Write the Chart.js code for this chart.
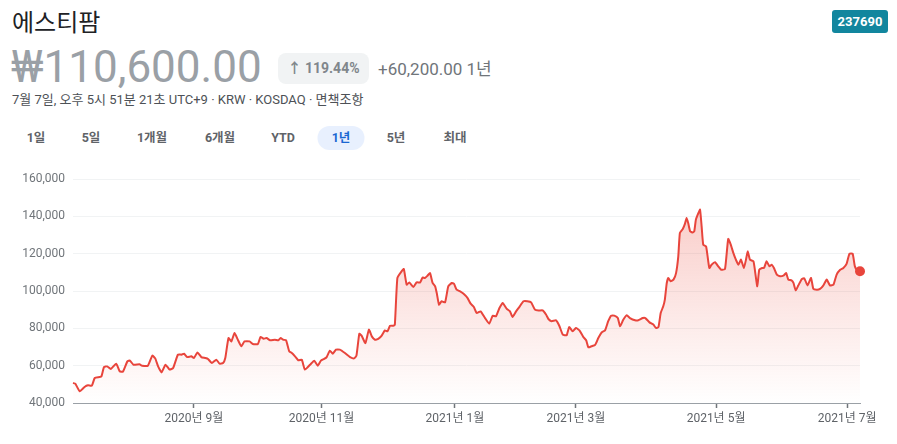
<!DOCTYPE html>
<html lang="ko">
<head>
<meta charset="utf-8">
<script src="https://cdn.jsdelivr.net/npm/chart.js@4.4.1/dist/chart.umd.min.js"></script>
<style>
  body { margin: 0; width: 897px; height: 444px; background: #fff; position: relative; overflow: hidden;
         font-family: Roboto, "Noto Sans CJK KR", Arial, sans-serif; }
  .abs { position: absolute; white-space: nowrap; }
  #title { left: 12px; top: 4px; font-size: 24px; line-height: 34px; color: #202124;
           font-family: "Noto Sans CJK KR", Roboto, sans-serif; }
  #badge { left: 832px; top: 10px; width: 56px; height: 23px; line-height: 23px; border-radius: 3px;
           background: #12869e; color: #fff; font-weight: 700; font-size: 13px; text-align: center; }
  #price { left: 11px; top: 39px; font-size: 44px; line-height: 56px; color: #9aa0a6; }
  #pill { left: 278px; top: 53px; width: 91px; height: 31px; line-height: 31px; border-radius: 8px;
          background: #f1f3f4; color: #80868b; font-weight: 700; font-size: 14px; text-align: center; }
  #change { left: 378px; top: 57px; font-size: 17px; line-height: 24px; color: #70757a; }
  #sub { left: 12px; top: 91px; font-size: 13px; line-height: 18px; color: #4d5156; }
  .tab { top: 126px; height: 24px; line-height: 24px; font-size: 12.5px; font-weight: 700; color: #5f6368;
         text-align: center; transform: translateX(-50%); }
  .tab.on { background: #e8f0fe; color: #1967d2; border-radius: 12px; width: 47px; }
  #wrap { position: absolute; left: 0; top: 160px; width: 897px; height: 284px; }
</style>
</head>
<body>
<div id="title" class="abs">에스티팜</div>
<div id="badge" class="abs">237690</div>
<div id="price" class="abs">₩110,600.00</div>
<div id="pill" class="abs">↑ 119.44%</div>
<div id="change" class="abs">+60,200.00 1년</div>
<div id="sub" class="abs">7월 7일, 오후 5시 51분 21초 UTC+9 · KRW · KOSDAQ · 면책조항</div>
<div class="abs tab" style="left:36px">1일</div>
<div class="abs tab" style="left:91px">5일</div>
<div class="abs tab" style="left:152px">1개월</div>
<div class="abs tab" style="left:220px">6개월</div>
<div class="abs tab" style="left:283px">YTD</div>
<div class="abs tab on" style="left:341px">1년</div>
<div class="abs tab" style="left:396px">5년</div>
<div class="abs tab" style="left:455px">최대</div>
<div id="wrap"><canvas id="chart" width="897" height="284"></canvas></div>
<script>
// trading-day position (0 = 2020-07-07) and closing price in won
const days = [
  0, 0.7, 2.1, 3.6, 4.7, 5.9, 6.8, 8.3, 8.9, 9.7, 10.7, 11.8, 13.5, 14.6, 15.6, 17.0, 17.8, 18.9, 20.8, 21.6,
  23.4, 24.8, 25.7, 26.6, 27.7, 28.9, 30.2, 31.3, 32.8, 33.9, 34.7, 35.7, 37.0, 37.8, 38.9, 40.1, 41.4, 42.2, 43.4, 44.8,
  45.8, 46.9, 47.6, 48.6, 49.5, 50.5, 51.6, 52.6, 53.6, 55.2, 56.2, 57.8, 58.6, 59.6, 60.5, 61.6, 63.1, 64.2, 64.9, 65.7,
  66.6, 67.6, 68.4, 69.4, 70.4, 71.5, 72.5, 74.1, 75.4, 76.5, 77.5, 78.5, 79.3, 80.3, 81.2, 82.2, 83.4, 85.0, 86.6, 87.9,
  88.6, 89.5, 90.2, 91.4, 92.5, 93.4, 94.4, 95.4, 96.5, 97.5, 98.3, 99.1, 100.1, 100.6, 101.4, 102.7, 103.4, 104.3, 105.1, 106.4,
  107.4, 108.5, 109.3, 110.0, 110.8, 111.6, 112.4, 113.2, 113.7, 114.4, 115.2, 116.3, 117.3, 118.4, 119.1, 119.9, 121.0, 122.0, 123.3, 124.3,
  125.3, 126.2, 127.4, 128.8, 130.1, 131.2, 132.2, 133.3, 134.3, 135.6, 136.6, 137.4, 138.5, 139.5, 140.8, 142.0, 143.2, 144.4, 145.5, 146.8,
  147.9, 148.6, 149.6, 151.0, 152.0, 153.1, 154.3, 155.1, 156.2, 157.2, 158.3, 159.5, 160.4, 161.1, 162.1, 163.2, 164.2, 165.3, 166.3, 167.3,
  168.2, 169.2, 170.3, 171.0, 172.0, 173.1, 174.1, 175.7, 176.7, 178.1, 178.9, 180.2, 181.4, 182.2, 183.0, 183.7, 184.5, 185.0, 185.6, 186.1,
  186.8, 187.7, 188.5, 189.2, 189.7, 190.6, 191.3, 191.8, 192.3, 192.9, 193.7, 194.2, 194.7, 195.5, 196.0, 196.5, 197.0, 197.9, 198.9, 199.6,
  200.7, 201.7, 202.6, 203.8, 204.8, 205.6, 206.4, 207.2, 208.0, 208.8, 209.7, 210.4, 210.9, 211.6, 212.7, 213.2, 213.9, 214.5, 215.4, 216.0,
  216.8, 217.7, 218.4, 219.1, 220.0, 221.0, 222.2, 222.9, 223.6, 224.6, 225.2, 225.9, 226.7, 227.8, 228.6, 229.6, 230.7, 231.4, 232.5, 233.5,
  234.5, 235.6, 236.6, 237.7, 238.7, 239.8, 240.8, 241.8, 242.7, 243.7, 244.4, 245.2, 246.0
];
const prices = [
  50700, 50400, 46300, 48600, 49500, 49300, 53400, 53900, 54300, 59300, 59600, 58200, 61100, 57000, 56800, 62300, 62700, 60500, 60700, 60000,
  60000, 65400, 63900, 59600, 56400, 60500, 57900, 58800, 65900, 65900, 66400, 64600, 65000, 64100, 67100, 64600, 64100, 63600, 61400, 63200,
  61100, 61400, 64100, 74800, 73000, 77500, 73600, 70400, 73000, 73000, 71600, 71600, 75400, 74400, 74800, 73600, 73900, 73600, 74800, 73900,
  73600, 67700, 66800, 65000, 62900, 63200, 57900, 60500, 62700, 60000, 62700, 63600, 64600, 68000, 66400, 68600, 68600, 66800, 64600, 63900,
  65400, 77100, 76100, 72100, 79300, 75700, 73900, 74300, 76100, 78900, 78400, 81400, 81400, 82000, 107000, 110500, 111800, 103400, 104600, 102100,
  104600, 104600, 107300, 106900, 108200, 109600, 104300, 102500, 98900, 92700, 94500, 93900, 102500, 104300, 103900, 100700, 99800, 98600, 96300, 93200,
  91400, 88200, 89100, 85500, 82500, 86800, 86400, 90900, 93600, 90400, 89100, 86100, 89100, 91400, 94500, 94500, 93900, 90000, 89500, 89600,
  87300, 85000, 83800, 84300, 81400, 76600, 76300, 80700, 78400, 80200, 78900, 75400, 73600, 69800, 70400, 71100, 74800, 77900, 78900, 83800,
  86800, 86800, 85500, 81100, 84600, 87000, 85500, 84300, 84300, 85500, 85500, 83200, 82000, 80200, 80700, 88200, 91800, 95400, 104300, 107000,
  105200, 106100, 109600, 118600, 131100, 133200, 136100, 139100, 136400, 132000, 131400, 132000, 138200, 141800, 143600, 134600, 124800, 123900, 112300, 114100,
  115400, 113200, 111400, 111800, 127900, 124800, 120400, 116800, 114100, 116800, 112300, 117100, 121300, 116800, 115900, 110500, 102500, 111400, 112300, 112300,
  115900, 113200, 114100, 112300, 108800, 107900, 108400, 109600, 106100, 105700, 104300, 100400, 102900, 106400, 106800, 103000, 107000, 101200, 100700, 101100,
  102900, 106100, 103000, 103400, 108800, 111400, 112300, 114500, 120000, 120000, 113200, 110900, 110600
];
const tickDays = [37.8, 77.7, 119.4, 157.2, 201.0, 242.0];
const tickLabels = ['2020년 9월', '2020년 11월', '2021년 1월', '2021년 3월', '2021년 5월', '2021년 7월'];
const yMin = 40000, yMax = 160000, yStep = 20000;

const red = '#e8453c';
const last = prices.length - 1;
const font = { family: 'Roboto, "Noto Sans CJK KR", Arial, sans-serif', size: 12 };

new Chart(document.getElementById('chart'), {
  type: 'line',
  data: {
    datasets: [{
      data: days.map((d, i) => ({ x: d, y: prices[i] })),
      borderColor: red,
      borderWidth: 2,
      tension: 0.15,
      fill: 'start',
      clip: false,
      backgroundColor: (ctx) => {
        const area = ctx.chart.chartArea;
        if (!area) return 'rgba(234,67,53,0.1)';
        const g = ctx.chart.ctx.createLinearGradient(0, area.top, 0, area.bottom);
        g.addColorStop(0, 'rgba(234,67,53,0.30)');
        g.addColorStop(1, 'rgba(234,67,53,0.0)');
        return g;
      },
      pointRadius: (ctx) => ctx.dataIndex === last ? 5 : 0,
      pointHoverRadius: (ctx) => ctx.dataIndex === last ? 5 : 0,
      pointBackgroundColor: red,
      pointBorderWidth: 0
    }]
  },
  options: {
    responsive: false,
    animation: false,
    events: [],
    layout: { padding: { top: 19, right: 37, left: 0, bottom: 0 } },
    plugins: { legend: { display: false }, tooltip: { enabled: false } },
    scales: {
      x: {
        type: 'linear',
        min: 0,
        max: 246,
        afterBuildTicks: (axis) => { axis.ticks = tickDays.map(v => ({ value: v })); },
        afterFit: (axis) => { axis.height = 41; },
        ticks: {
          autoSkip: false,
          maxRotation: 0,
          padding: 4,
          color: '#5f6368',
          font: font,
          callback: (v, i) => tickLabels[i]
        },
        grid: { drawOnChartArea: false, tickLength: 5, color: '#70757a', tickWidth: 1.5 },
        border: { display: true, color: '#9aa0a6', width: 1 }
      },
      y: {
        min: yMin,
        max: yMax,
        afterFit: (axis) => { axis.width = 73; },
        ticks: {
          stepSize: yStep,
          padding: 8,
          color: '#70757a',
          font: font,
          callback: (v) => v.toLocaleString('en-US')
        },
        grid: { color: '#f1f3f4', drawTicks: false },
        border: { display: false }
      }
    }
  }
});
</script>
</body>
</html>
